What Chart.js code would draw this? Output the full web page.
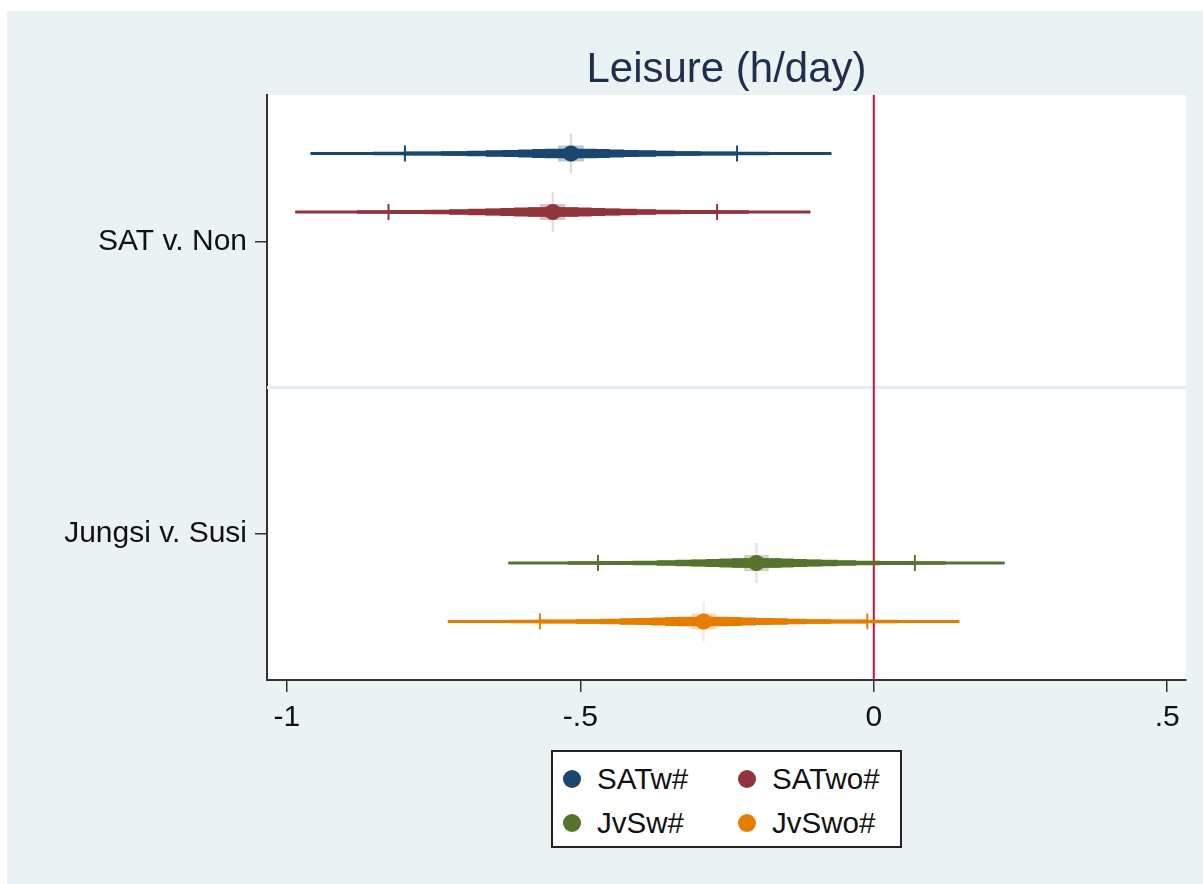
<!DOCTYPE html>
<html>
<head>
<meta charset="utf-8">
<script src="https://cdn.jsdelivr.net/npm/chart.js@4/dist/chart.umd.min.js"></script>
<style>
  html, body { margin: 0; padding: 0; background: #fff; }
  #bg { position: absolute; left: 7px; top: 11px; width: 1196px; height: 873px; background: #eaf2f3; }
  #wrap { position: absolute; left: 0; top: 0; width: 1203px; height: 884px; }
  #legend { position: absolute; left: 551px; top: 750px; width: 347px; height: 94px; background: #fff; border: 2px solid #222; font-family: "Liberation Sans", Arial, sans-serif; font-size: 29.5px; color: #111; }
  .item { position: absolute; height: 30px; line-height: 30px; }
  .dot { position: absolute; width: 18px; height: 18px; border-radius: 50%; }
</style>
</head>
<body>
<div id="bg"></div>
<div id="wrap"><canvas id="chart" width="1203" height="884"></canvas></div>
<div id="legend"></div>
<script>
// groups on the y axis
const groupLabels = ['SAT v. Non', 'Jungsi v. Susi'];
const groupPos = [1, 2];

// series
const seriesNames = ['SATw#', 'SATwo#', 'JvSw#', 'JvSwo#'];
const seriesColors = ['#1a476f', '#90353b', '#55752f', '#e37e00'];
const seriesRows = [0.7, 0.9, 2.1, 2.3];
const estimates = [-0.516, -0.547, -0.200, -0.290];

// smoothed CI: bounds at each confidence level (%), 90% is the capped one
const ciLevels = [99, 95, 90, 80, 70, 60, 50, 40, 30, 20, 10, 5, 1];
const satwLo = [-0.960, -0.854, -0.799, -0.737, -0.694, -0.661, -0.632, -0.606, -0.582, -0.560, -0.538, -0.527, -0.518];
const satwHi = [-0.072, -0.179, -0.233, -0.295, -0.338, -0.371, -0.400, -0.426, -0.450, -0.472, -0.494, -0.505, -0.514];
const satwoLo = [-0.986, -0.881, -0.827, -0.766, -0.724, -0.691, -0.662, -0.636, -0.613, -0.590, -0.569, -0.558, -0.549];
const satwoHi = [-0.108, -0.213, -0.267, -0.329, -0.371, -0.404, -0.432, -0.458, -0.481, -0.504, -0.526, -0.536, -0.545];
const jvswLo = [-0.623, -0.522, -0.470, -0.411, -0.370, -0.338, -0.311, -0.286, -0.263, -0.242, -0.221, -0.210, -0.202];
const jvswHi = [0.223, 0.122, 0.070, 0.011, -0.030, -0.062, -0.089, -0.114, -0.137, -0.158, -0.179, -0.190, -0.198];
const jvswoLo = [-0.726, -0.622, -0.569, -0.507, -0.466, -0.433, -0.404, -0.379, -0.355, -0.333, -0.311, -0.301, -0.292];
const jvswoHi = [0.146, 0.042, -0.011, -0.073, -0.115, -0.147, -0.176, -0.201, -0.225, -0.247, -0.269, -0.279, -0.288];

// x axis
const xTickValues = [-1, -0.5, 0, 0.5];
const xTickLabels = ['-1', '-.5', '0', '.5'];
const xMin = -1.034, xMax = 0.532;
const yMin = 0.5, yMax = 2.5;
const capLevel = 2; // index of the capped level (90%)

const lows = [satwLo, satwoLo, jvswLo, jvswoLo];
const highs = [satwHi, satwoHi, jvswHi, jvswoHi];

// look of each CI level
const bandWidths = [3, 3.4, 3.9, 4.7, 5.5, 6.4, 7.2, 8, 8.8, 9.7, 16, 11, 40];
const bandAlphas = [1, 1, 1, 1, 1, 1, 1, 1, 1, 1, 0.3, 1, 0.18];

function rgba(hex, a) {
  const n = parseInt(hex.slice(1), 16);
  return `rgba(${(n >> 16) & 255},${(n >> 8) & 255},${n & 255},${a})`;
}

const FONT = '"Liberation Sans", Arial, sans-serif';
const datasets = [];

// separator between groups and reference line at zero
datasets.push({
  data: [{ x: xMin, y: 1.5 }, { x: xMax, y: 1.5 }],
  showLine: true, borderColor: '#e3edef', borderWidth: 3, pointRadius: 0, order: 100
});
datasets.push({
  data: [{ x: 0, y: yMin }, { x: 0, y: yMax }],
  showLine: true, borderColor: '#c8143c', borderWidth: 2, pointRadius: 0, order: 40
});

seriesNames.forEach((name, s) => {
  ciLevels.forEach((lvl, k) => {
    datasets.push({
      label: name + ' ' + lvl,
      data: [{ x: lows[s][k], y: seriesRows[s] }, { x: highs[s][k], y: seriesRows[s] }],
      showLine: true,
      borderColor: rgba(seriesColors[s], bandAlphas[k]),
      borderWidth: bandWidths[k],
      pointRadius: 0,
      order: bandAlphas[k] < 1 ? 60 + k : 20
    });
  });
  // caps at the 90% bounds
  datasets.push({
    label: name + ' caps',
    data: [{ x: lows[s][capLevel], y: seriesRows[s] }, { x: highs[s][capLevel], y: seriesRows[s] }],
    showLine: false,
    pointStyle: 'line', rotation: 90, pointRadius: 8,
    borderColor: seriesColors[s], borderWidth: 2,
    order: 1
  });
  // point estimate
  datasets.push({
    label: name,
    data: [{ x: estimates[s], y: seriesRows[s] }],
    showLine: false,
    pointStyle: 'circle', pointRadius: 8,
    backgroundColor: seriesColors[s], borderColor: seriesColors[s], borderWidth: 0,
    order: 0
  });
});

const plotBg = {
  id: 'plotBg',
  beforeDraw(chart) {
    const { ctx, chartArea: a } = chart;
    ctx.save();
    ctx.fillStyle = '#fff';
    ctx.fillRect(a.left, a.top, a.right - a.left, a.bottom - a.top);
    ctx.restore();
  },
  afterDraw(chart) {
    const { ctx, chartArea: a } = chart;
    ctx.save();
    ctx.fillStyle = '#1f2e4d';
    ctx.font = '42px ' + FONT;
    ctx.textAlign = 'center';
    ctx.textBaseline = 'alphabetic';
    ctx.fillText('Leisure (h/day)', (a.left + a.right) / 2, 82);
    ctx.restore();
  }
};

new Chart(document.getElementById('chart'), {
  type: 'scatter',
  data: { datasets },
  plugins: [plotBg],
  options: {
    responsive: false,
    animation: false,
    devicePixelRatio: 1,
    layout: { padding: { top: 95, left: 0, right: 17, bottom: 144 } },
    plugins: { legend: { display: false }, tooltip: { enabled: false }, title: { display: false } },
    scales: {
      x: {
        type: 'linear', min: xMin, max: xMax,
        afterBuildTicks: (sc) => { sc.ticks = xTickValues.map(v => ({ value: v })); },
        afterFit: (sc) => { sc.height = 60; },
        grid: { drawOnChartArea: false, drawTicks: true, tickLength: 12, color: '#333', lineWidth: 1.5 },
        border: { display: true, color: '#333', width: 2 },
        ticks: {
          autoSkip: false, maxRotation: 0, padding: 8, color: '#111',
          font: { family: FONT, size: 30 },
          callback: (v, i) => xTickLabels[i]
        }
      },
      y: {
        type: 'linear', min: yMin, max: yMax, reverse: true,
        afterBuildTicks: (sc) => { sc.ticks = groupPos.map(v => ({ value: v })); },
        afterFit: (sc) => { sc.width = 267; },
        grid: { drawOnChartArea: false, drawTicks: true, tickLength: 12, color: '#333', lineWidth: 1.5 },
        border: { display: true, color: '#333', width: 2 },
        ticks: {
          autoSkip: false, padding: 8, color: '#111',
          font: { family: FONT, size: 30 },
          callback: (v, i) => groupLabels[i]
        }
      }
    }
  }
});

// legend box, two columns
const legend = document.getElementById('legend');
const legX = [17, 192];
const legY = [12, 56];
seriesNames.forEach((name, s) => {
  const col = s % 2, row = Math.floor(s / 2);
  const d = document.createElement('div');
  d.className = 'dot';
  d.style.background = seriesColors[s];
  d.style.left = (legX[col] - 9 + 2) + 'px';
  d.style.top = (legY[row] + 6) + 'px';
  legend.appendChild(d);
  const t = document.createElement('div');
  t.className = 'item';
  t.textContent = name;
  t.style.left = (legX[col] + 27) + 'px';
  t.style.top = legY[row] + 'px';
  legend.appendChild(t);
});
</script>
</body>
</html>
